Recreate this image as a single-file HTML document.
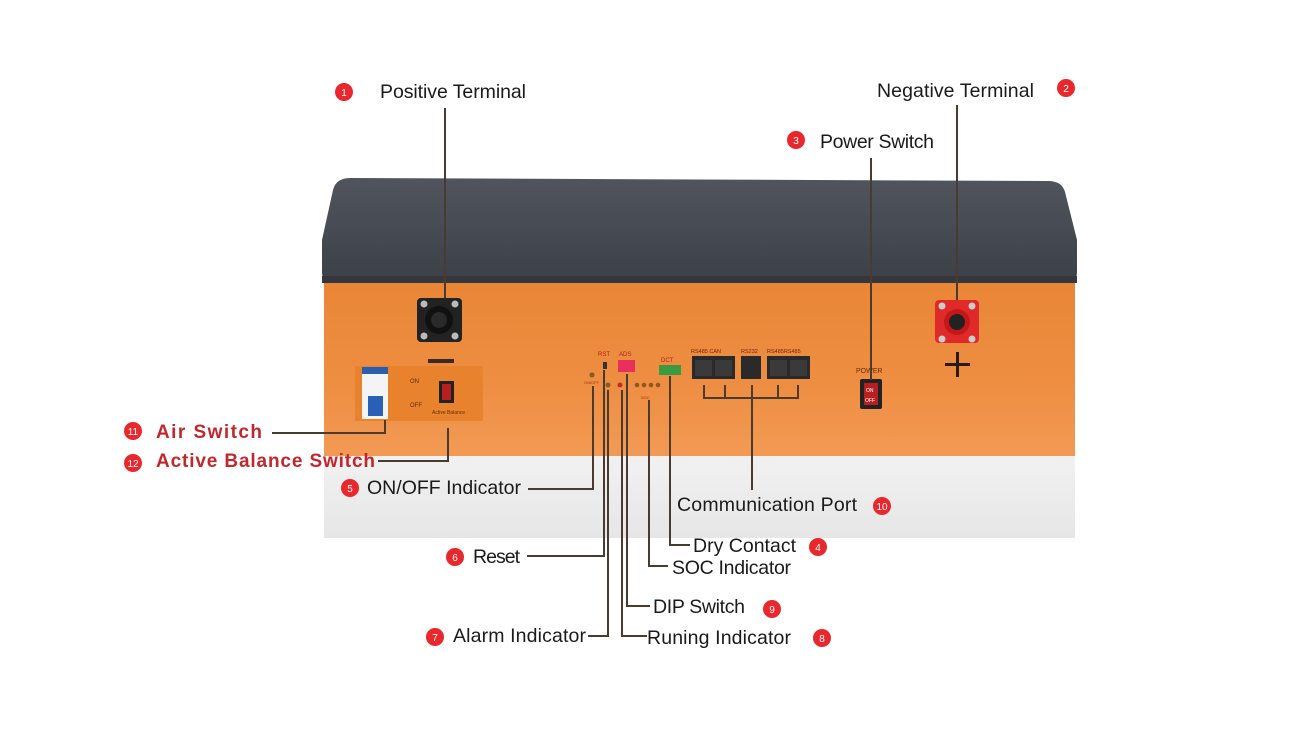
<!DOCTYPE html>
<html><head><meta charset="utf-8"><style>
html,body{margin:0;padding:0;background:#fff;width:1315px;height:742px;overflow:hidden}
svg{display:block}
text{font-family:"Liberation Sans",sans-serif}
</style></head><body>
<svg width="1315" height="742" viewBox="0 0 1315 742" xmlns="http://www.w3.org/2000/svg">
<defs>
<linearGradient id="or" x1="0" y1="0" x2="0" y2="1">
<stop offset="0" stop-color="#e98636"/><stop offset="0.6" stop-color="#ee8e42"/><stop offset="1" stop-color="#f29a55"/>
</linearGradient>
<linearGradient id="lid" x1="0" y1="0" x2="0" y2="1">
<stop offset="0" stop-color="#50555d"/><stop offset="1" stop-color="#3c4047"/>
</linearGradient>
<linearGradient id="base" x1="0" y1="0" x2="0" y2="1">
<stop offset="0" stop-color="#f2f2f2"/><stop offset="1" stop-color="#e6e6e6"/>
</linearGradient>
</defs>
<rect x="324" y="452" width="751" height="86" fill="url(#base)"/>
<rect x="324" y="280" width="751" height="176" fill="url(#or)"/>
<path d="M322 240 L333 190 Q336 178 350 178 L1048 181 Q1062 181 1065 192 L1077 240 L1077 272 Q1077 283 1065 283 L334 283 Q322 283 322 272 Z" fill="url(#lid)"/>
<rect x="322" y="276" width="755" height="7" fill="#34383e"/>

<rect x="417" y="298" width="45" height="44" rx="4" fill="#222"/>
<circle cx="439" cy="320" r="14" fill="#111"/><circle cx="439" cy="320" r="8" fill="#2a2a2a"/>
<circle cx="424" cy="304" r="3.5" fill="#bbb"/><circle cx="455" cy="304" r="3.5" fill="#bbb"/>
<circle cx="424" cy="336" r="3.5" fill="#bbb"/><circle cx="455" cy="336" r="3.5" fill="#bbb"/>
<rect x="428" y="359" width="26" height="4" fill="#3a2a20"/>
<rect x="935" y="300" width="44" height="43" rx="4" fill="#e02a2a"/>
<circle cx="957" cy="322" r="13" fill="#c41818"/><circle cx="957" cy="322" r="8" fill="#222"/>
<circle cx="942" cy="306" r="3.5" fill="#ccc"/><circle cx="972" cy="306" r="3.5" fill="#ccc"/>
<circle cx="942" cy="339" r="3.5" fill="#ccc"/><circle cx="972" cy="339" r="3.5" fill="#ccc"/>
<rect x="945" y="363" width="25" height="3" fill="#2a1a10"/><rect x="956" y="352" width="3" height="25" fill="#2a1a10"/>
<text x="856" y="373" font-size="7" fill="#6a2a10">POWER</text>
<rect x="860" y="379" width="22" height="30" rx="2" fill="#222"/>
<rect x="864" y="383" width="14" height="22" fill="#b52020"/>
<text x="866" y="392" font-size="5" fill="#fff">ON</text><text x="865" y="402" font-size="5" fill="#fff">OFF</text>

<rect x="355" y="366" width="128" height="55" fill="#e8822c"/>
<rect x="362" y="367" width="26" height="52" fill="#f4f4f4"/>
<rect x="362" y="367" width="26" height="7" fill="#2a5fb0"/>
<rect x="368" y="396" width="15" height="20" fill="#2a5fb8"/>
<text x="410" y="383" font-size="6" fill="#5a3010">ON</text>
<text x="410" y="407" font-size="6" fill="#5a3010">OFF</text>
<rect x="439" y="381" width="15" height="22" fill="#222"/>
<rect x="442" y="384" width="9" height="16" fill="#b52020"/>
<text x="432" y="414" font-size="5" fill="#5a3010">Active Balance</text>

<text x="598" y="356" font-size="6" fill="#b02020">RST</text>
<text x="619" y="356" font-size="6" fill="#b02020">ADS</text>
<rect x="603" y="362" width="4" height="7" fill="#333"/>
<rect x="618" y="360" width="17" height="12" fill="#e8305a"/>
<circle cx="592" cy="375" r="2.5" fill="#8a5a20"/>
<text x="584" y="384" font-size="4" fill="#a03010">ON/OFF</text>
<circle cx="608" cy="385" r="2.5" fill="#8a5a20"/><circle cx="620" cy="385" r="2.5" fill="#c03020"/>
<circle cx="637" cy="385" r="2.3" fill="#8a5a20"/><circle cx="644" cy="385" r="2.3" fill="#8a5a20"/><circle cx="651" cy="385" r="2.3" fill="#8a5a20"/><circle cx="658" cy="385" r="2.3" fill="#8a5a20"/>
<text x="641" y="399" font-size="4" fill="#a03010">SOC</text>
<text x="661" y="362" font-size="6" fill="#b02020">DCT</text>
<rect x="659" y="365" width="22" height="10" fill="#3a9a40"/>
<text x="691" y="353" font-size="5.5" fill="#7a2010">RS485  CAN</text>
<text x="741" y="353" font-size="5.5" fill="#7a2010">RS232</text>
<text x="767" y="353" font-size="5.5" fill="#7a2010">RS485RS485</text>
<rect x="692" y="356" width="43" height="23" fill="#2a2a2a"/>
<rect x="695" y="360" width="17" height="16" fill="#3a3a3a"/><rect x="715" y="360" width="17" height="16" fill="#3a3a3a"/>
<rect x="741" y="356" width="20" height="23" fill="#2a2a2a"/>
<rect x="767" y="356" width="43" height="23" fill="#2a2a2a"/>
<rect x="770" y="360" width="17" height="16" fill="#3a3a3a"/><rect x="790" y="360" width="17" height="16" fill="#3a3a3a"/>

<g stroke="#4a3a30" stroke-width="2" fill="none">
<path d="M445 108 V298"/>
<path d="M957 105 V300"/>
<path d="M871 158 V380"/>
<path d="M272 433 H385 V420"/>
<path d="M378 461 H448 V428"/>
<path d="M528 489 H593 V386"/>
<path d="M527 556 H604 V370"/>
<path d="M588 636 H608 V390"/>
<path d="M647 636 H622 V390"/>
<path d="M650 606 H627 V374"/>
<path d="M668 566 H649 V400"/>
<path d="M690 545 H670 V376"/>
<path d="M704 385 V398 H798 V385 M725 385 V398 M778 385 V398 M752 385 V490"/>
</g>

<g fill="#e8282d">
<circle cx="344" cy="92" r="9"/><circle cx="1066" cy="88" r="9"/><circle cx="796" cy="140" r="9"/>
<circle cx="818" cy="547" r="9"/><circle cx="350" cy="488" r="9"/><circle cx="455" cy="557" r="9"/>
<circle cx="435" cy="637" r="9"/><circle cx="822" cy="638" r="9"/><circle cx="772" cy="609" r="9"/>
<circle cx="882" cy="506" r="9"/><circle cx="133" cy="431" r="9"/><circle cx="133" cy="463" r="9"/>
</g>
<g fill="#fff" font-size="10" text-anchor="middle">
<text x="344" y="96">1</text><text x="1066" y="92">2</text><text x="796" y="144">3</text>
<text x="818" y="551">4</text><text x="350" y="492">5</text><text x="455" y="561">6</text>
<text x="435" y="641">7</text><text x="822" y="642">8</text><text x="772" y="613">9</text>
<text x="882" y="510">10</text><text x="133" y="435">11</text><text x="133" y="467">12</text>
</g>

<g font-size="19.5" fill="#1a1a1a">
<text x="380" y="98" textLength="146">Positive Terminal</text>
<text x="877" y="97" textLength="157">Negative Terminal</text>
<text x="820" y="148" textLength="114">Power Switch</text>
<text x="367" y="494" textLength="154">ON/OFF Indicator</text>
<text x="473" y="563" textLength="47">Reset</text>
<text x="453" y="642" textLength="133">Alarm Indicator</text>
<text x="647" y="644" textLength="144">Runing Indicator</text>
<text x="653" y="613" textLength="92">DIP Switch</text>
<text x="672" y="574" textLength="119">SOC Indicator</text>
<text x="693" y="552" textLength="103">Dry Contact</text>
<text x="677" y="511" textLength="180">Communication Port</text>
</g>
<g font-size="19" font-weight="bold" fill="#c0282d">
<text x="156" y="438" textLength="106">Air Switch</text>
<text x="156" y="467" textLength="219">Active Balance Switch</text>
</g>
</svg>
</body></html>
